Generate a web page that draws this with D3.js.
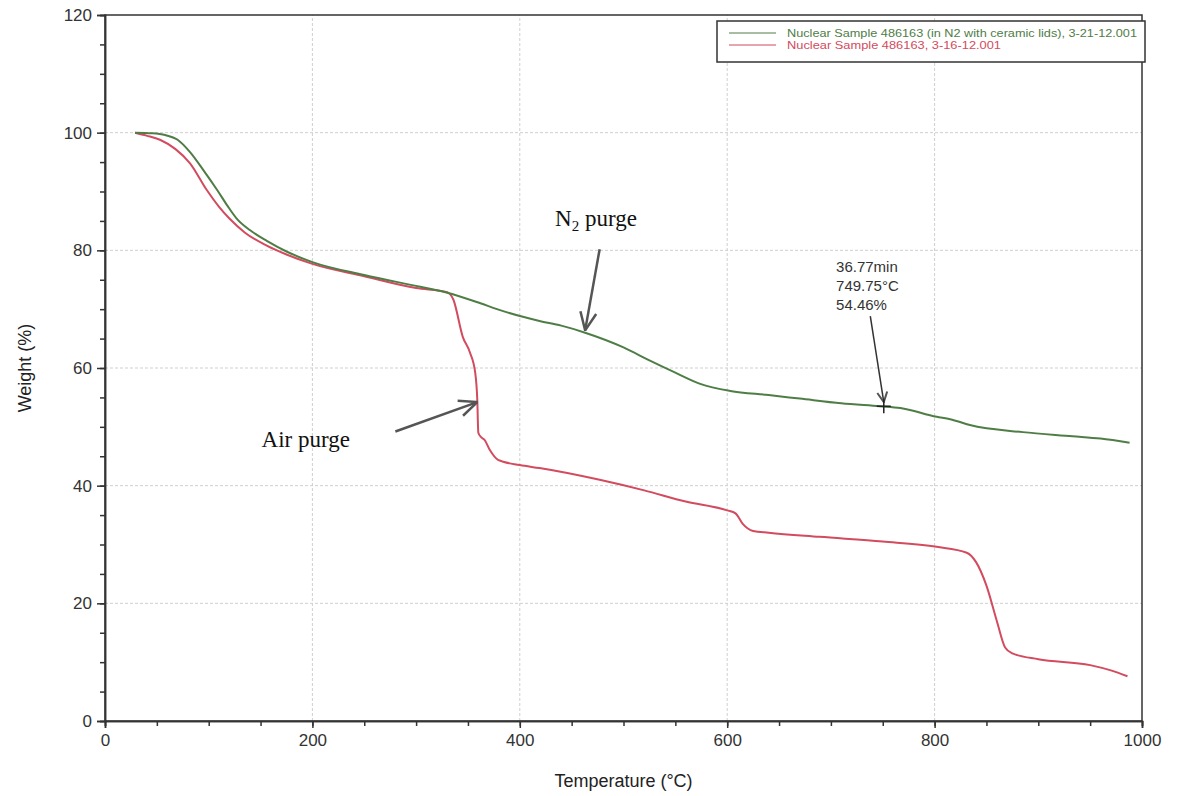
<!DOCTYPE html>
<head>
  <meta charset="utf-8">
  <script src="https://cdn.jsdelivr.net/npm/d3@7/dist/d3.min.js"></script>
  <style>
    body { margin:0; background:#fff; }
    text { font-family: "Liberation Sans", Arial, sans-serif; }
  </style>
</head>
<body>
<svg width="1177" height="796"></svg>
<script>
// TGA traces: temperature (°C) vs weight (%)
var n2Temp   = [29, 45, 58, 70, 82, 95, 108, 118, 127, 140, 156, 175, 200, 250, 304, 330, 362, 378, 403, 419, 440, 463, 500, 526, 550, 574, 603, 640, 670, 710, 747, 767, 802, 815, 834, 885, 933, 960, 988];
var n2Weight = [100, 99.9, 99.6, 98.8, 96.7, 93.6, 90.3, 87.6, 85.4, 83.4, 81.6, 79.8, 78.0, 75.8, 73.8, 72.8, 71.0, 70.0, 68.7, 68.0, 67.2, 66.0, 63.5, 61.2, 59.2, 57.3, 56.1, 55.4, 54.8, 54.0, 53.5, 53.2, 51.7, 51.3, 50.3, 49.1, 48.4, 48.0, 47.3];

var airTemp   = [29, 40, 53, 68, 82, 98, 110, 120, 135, 156, 175, 200, 250, 300, 330, 336, 345, 352, 357, 359, 360, 363, 366, 371, 379, 400, 419, 477, 520, 560, 600, 608, 615, 625, 640, 689, 750, 802, 831, 840, 850, 860, 868, 875, 900, 950, 970, 986];
var airWeight = [100, 99.5, 98.8, 97.2, 94.8, 90.3, 87.4, 85.4, 83.0, 80.8, 79.3, 77.7, 75.6, 73.6, 72.9, 71.6, 65.3, 62.6, 59.2, 54.6, 49.0, 48.2, 47.8, 46.1, 44.4, 43.5, 43.0, 41.0, 39.2, 37.3, 35.8, 35.3, 33.5, 32.3, 32.0, 31.3, 30.5, 29.6, 28.6, 27.0, 23.0, 17.0, 12.5, 11.5, 10.5, 9.5, 8.6, 7.6];

var xTicks = [0, 200, 400, 600, 800, 1000];
var yTicks = [0, 20, 40, 60, 80, 100, 120];

var legendLabels = ["Nuclear Sample 486163 (in N2 with ceramic lids), 3-21-12.001",
                    "Nuclear Sample 486163, 3-16-12.001"];
var colors = ["#4f7d46", "#d24b5e"];

// annotation positions in data units (temperature, weight)
var readoutLines = ["36.77min", "749.75°C", "54.46%"];
var readoutAt = [705, 76.4];
var readoutArrow = [[738, 68.8], [751, 54.2]];
var cursorAt = [751, 53.5];
var n2LabelAt = [434, 84.2];
var n2Arrow = [[477, 80.2], [463, 66.4]];
var airLabelAt = [151, 46.5];
var airArrow = [[280, 49.2], [359, 54.2]];

var svg = d3.select("svg");
var x = d3.scaleLinear().domain([0, 1000]).range([105, 1142]);
var y = d3.scaleLinear().domain([0, 120]).range([721, 15]);

// grid
var grid = svg.append("g").attr("stroke", "#cfcfcf").attr("stroke-width", 1).attr("stroke-dasharray", "3,2");
grid.selectAll(".gx").data(xTicks.slice(1, -1)).enter().append("line")
  .attr("x1", function(d){ return x(d); }).attr("x2", function(d){ return x(d); })
  .attr("y1", y(0)).attr("y2", y(120));
grid.selectAll(".gy").data(yTicks.slice(1, -1)).enter().append("line")
  .attr("x1", x(0)).attr("x2", x(1000))
  .attr("y1", function(d){ return y(d); }).attr("y2", function(d){ return y(d); });

// frame
svg.append("rect").attr("x", x(0)).attr("y", y(120))
  .attr("width", x(1000) - x(0)).attr("height", y(0) - y(120))
  .attr("fill", "none").attr("stroke", "#333").attr("stroke-width", 1.5);

// axes
svg.append("g").attr("transform", "translate(0," + y(0) + ")")
  .call(d3.axisBottom(x).tickValues(xTicks).tickSize(7).tickPadding(6).tickFormat(d3.format("d")));
svg.append("g").attr("transform", "translate(0," + y(0) + ")")
  .call(d3.axisBottom(x).ticks(20).tickSize(5).tickFormat(""));
svg.append("g").attr("transform", "translate(" + x(0) + ",0)")
  .call(d3.axisLeft(y).tickValues(yTicks).tickSize(8).tickPadding(5).tickFormat(d3.format("d")));
svg.append("g").attr("transform", "translate(" + x(0) + ",0)")
  .call(d3.axisLeft(y).ticks(24).tickSize(5).tickFormat(""));
svg.selectAll(".domain").attr("stroke", "#333").attr("stroke-width", 1.5);
svg.selectAll(".tick line").attr("stroke", "#333").attr("stroke-width", 1.5);
svg.selectAll(".tick text").attr("font-size", 17).attr("fill", "#333")
  .attr("font-family", "Liberation Sans, Arial, sans-serif");

svg.append("text").attr("x", (x(0) + x(1000)) / 2).attr("y", 787)
  .attr("text-anchor", "middle").attr("font-size", 18).attr("fill", "#222")
  .text("Temperature (°C)");
svg.append("text").attr("transform", "translate(31," + y(60) + ") rotate(-90)")
  .attr("text-anchor", "middle").attr("font-size", 18).attr("fill", "#222")
  .text("Weight (%)");

// curves
var line = d3.line().x(function(d){ return x(d[0]); }).y(function(d){ return y(d[1]); })
  .curve(d3.curveMonotoneX);
var series = [d3.zip(n2Temp, n2Weight), d3.zip(airTemp, airWeight)];
svg.selectAll(".curve").data([series[1], series[0]]).enter().append("path")
  .attr("d", line).attr("fill", "none")
  .attr("stroke", function(d, i){ return i === 0 ? colors[1] : colors[0]; })
  .attr("stroke-width", 2);

// legend
var lg = svg.append("g");
lg.append("rect").attr("x", 717).attr("y", 21).attr("width", 428).attr("height", 41)
  .attr("fill", "#fff").attr("stroke", "#333").attr("stroke-width", 1.5);
legendLabels.forEach(function(l, i){
  lg.append("line").attr("x1", 729).attr("x2", 776).attr("y1", 33 + i * 12).attr("y2", 33 + i * 12)
    .attr("stroke", colors[i]).attr("stroke-width", 1);
  lg.append("text").attr("x", 787).attr("y", 37 + i * 12).attr("font-size", 10.5)
    .attr("textLength", i === 0 ? 350 : 214).attr("lengthAdjust", "spacingAndGlyphs")
    .attr("fill", colors[i]).text(l);
});

// arrows
svg.append("defs").append("marker").attr("id", "arr")
  .attr("viewBox", "0 0 12 12").attr("refX", 11).attr("refY", 6)
  .attr("markerWidth", 12).attr("markerHeight", 12).attr("markerUnits", "userSpaceOnUse")
  .attr("orient", "auto")
  .append("path").attr("d", "M1,1 L11,6 L1,11").attr("fill", "none")
  .attr("stroke", "#555").attr("stroke-width", 2);
svg.append("defs").append("marker").attr("id", "arr2")
  .attr("viewBox", "0 0 20 20").attr("refX", 19).attr("refY", 10)
  .attr("markerWidth", 20).attr("markerHeight", 20).attr("markerUnits", "userSpaceOnUse")
  .attr("orient", "auto")
  .append("path").attr("d", "M1,2 L19,10 L1,18").attr("fill", "none")
  .attr("stroke", "#555").attr("stroke-width", 2.5);

function arrow(a, marker, w, col){
  svg.append("line").attr("x1", x(a[0][0])).attr("y1", y(a[0][1]))
    .attr("x2", x(a[1][0])).attr("y2", y(a[1][1]))
    .attr("stroke", col).attr("stroke-width", w).attr("marker-end", "url(#" + marker + ")");
}
arrow(n2Arrow, "arr2", 2.5, "#555");
arrow(airArrow, "arr2", 2.5, "#555");
arrow(readoutArrow, "arr", 1.5, "#333");

// cursor cross
svg.append("path")
  .attr("d", "M" + (x(cursorAt[0]) - 7) + "," + y(cursorAt[1]) + "h14M" + x(cursorAt[0]) + "," + (y(cursorAt[1]) - 7) + "v14")
  .attr("stroke", "#222").attr("stroke-width", 1.5);

// readout text
svg.append("g").selectAll("text").data(readoutLines).enter().append("text")
  .attr("x", x(readoutAt[0])).attr("y", function(d, i){ return y(readoutAt[1]) + i * 19; })
  .attr("font-size", 15).attr("fill", "#333").text(function(d){ return d; });

// purge labels
var n2 = svg.append("text").attr("x", x(n2LabelAt[0])).attr("y", y(n2LabelAt[1]))
  .style("font-family", "Liberation Serif, 'Times New Roman', serif").attr("font-size", 23).attr("fill", "#111");
n2.append("tspan").text("N");
n2.append("tspan").attr("font-size", 15).attr("dy", 5).text("2");
n2.append("tspan").attr("dy", -5).text(" purge");
svg.append("text").attr("x", x(airLabelAt[0])).attr("y", y(airLabelAt[1]))
  .style("font-family", "Liberation Serif, 'Times New Roman', serif").attr("font-size", 23).attr("fill", "#111")
  .text("Air purge");
</script>
</body>
